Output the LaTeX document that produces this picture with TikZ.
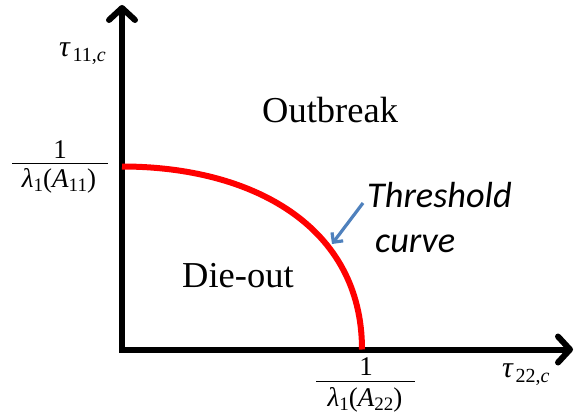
\documentclass[tikz,border=0pt]{standalone}
\usepackage{fontspec}
\setmainfont{Liberation Serif}
\newfontfamily\calibri{Carlito}
\usetikzlibrary{arrows.meta}
\newcommand{\lowsub}[1]{\raisebox{-4.5pt}{\fontsize{19}{21}\selectfont #1}}
\begin{document}
\begin{tikzpicture}[x=1pt,y=-1pt,
  axis/.style={line width=6pt,line join=miter,
    {Straight Barb[length=12pt,width=26pt,round]}-{Straight Barb[length=12pt,width=26pt,round]}},
  thresh/.style={line width=6pt,draw={rgb,255:red,255;green,0;blue,0}},
  pointer/.style={line width=3.2pt,draw={rgb,255:red,79;green,129;blue,189},
    -{Straight Barb[length=7pt,width=14pt]}},
  big/.style={font=\fontsize{36.5}{40}\selectfont,inner sep=0pt,anchor=base west},
  callout/.style={font=\calibri\itshape\fontsize{36.3}{40}\selectfont,inner sep=0pt,anchor=base west},
  frac/.style={font=\fontsize{27}{30}\selectfont,inner sep=0pt,anchor=base},
  fracbar/.style={line width=1.3pt},
  axlabel/.style={inner sep=0pt,anchor=base west}
]
\useasboundingbox (0,0) rectangle (577,417);
\coordinate (Y) at (122,5);
\coordinate (O) at (122,349.5);
\coordinate (X) at (573,349.5);
\coordinate (Ystart) at (122,166.5);
\coordinate (Xend) at (362,349.5);
\draw[axis] (Y) -- (O) -- (X);
\draw[thresh] (Ystart) .. controls (252,166.5) and (362,226) .. (Xend);
% region labels
\node[big] (outbreak) at (262,122) {Outbreak};
\node[big] (dieout) at (182,287) {Die-out};
% callout
\node[callout] (th) at (367,207) {Threshold};
\node[callout] (cu) at (375,252) {curve};
\coordinate (pstart) at (363,203);
\coordinate (pend) at (332,244);
\draw[pointer] (pstart) -- (pend);
% axis labels
\node[axlabel] (tau11) at (59,57) {{\fontsize{30}{32}\selectfont\textit{τ}}\,\raisebox{-5pt}{\fontsize{20}{22}\selectfont 11,\textit{c}}};
\node[axlabel] (tau22) at (502,377) {{\fontsize{30}{32}\selectfont\textit{τ}}\,\raisebox{-5pt}{\fontsize{20}{22}\selectfont 22,\textit{c}}};
% fraction on y axis
\node[frac] (n1) at (60,158.5) {1};
\node[frac] (d1) at (59,187) {\textit{λ}\lowsub{1}(\textit{A}\lowsub{11})};
\draw[fracbar] (12,163.5) -- (108,163.5);
% fraction on x axis
\node[frac] (n2) at (366,375) {1};
\node[frac] (d2) at (365,406) {\textit{λ}\lowsub{1}(\textit{A}\lowsub{22})};
\draw[fracbar] (316,381.5) -- (415,381.5);
\end{tikzpicture}
\end{document}
